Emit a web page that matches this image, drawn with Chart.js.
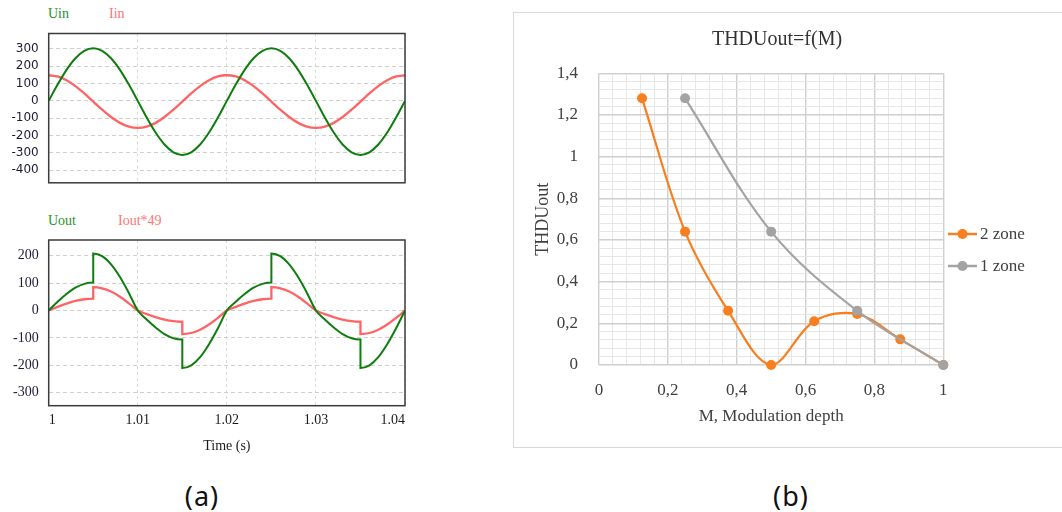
<!DOCTYPE html>
<html>
<head>
<meta charset="utf-8">
<script src="https://cdn.jsdelivr.net/npm/chart.js@4.4.0/dist/chart.umd.min.js"></script>
<style>
  body { margin: 0; background: #fff; width: 1062px; height: 512px; overflow: hidden; position: relative; }
  canvas { position: absolute; }
  .lbl { position: absolute; font-family: "Liberation Serif", serif; font-size: 14px; line-height: 16px; white-space: nowrap; }
  .cap { position: absolute; font-family: "Noto Sans", sans-serif; font-size: 27px; line-height: 30px; letter-spacing: 1px; transform: translateX(-50%); color: #111; }
  #frameB { position: absolute; left: 513px; top: 12px; width: 600px; height: 436px; border: 1px solid #d9d9d9; box-sizing: border-box; }
</style>
</head>
<body>
<div id="frameB"></div>

<div class="lbl" style="left:48px; top:6px; color:#2a8f2a;">Uin</div>
<div class="lbl" style="left:109px; top:6px; color:#ff7474;">Iin</div>
<div class="lbl" style="left:48px; top:213px; color:#2a8f2a;">Uout</div>
<div class="lbl" style="left:118px; top:213px; color:#ff7474;">Iout*49</div>

<canvas id="inChart" width="420" height="200" style="left:0; top:0;"></canvas>
<canvas id="outChart" width="420" height="260" style="left:0; top:200px;"></canvas>
<canvas id="thdChart" width="549" height="436" style="left:513px; top:12px;"></canvas>

<div class="cap" style="left:202px; top:481px;">(a)</div>
<div class="cap" style="left:791px; top:481px;">(b)</div>

<script>
// ---- input side: sampled every 1 ms ----
const tIn = [1.000, 1.001, 1.002, 1.003, 1.004, 1.005, 1.006, 1.007, 1.008, 1.009,
             1.010, 1.011, 1.012, 1.013, 1.014, 1.015, 1.016, 1.017, 1.018, 1.019,
             1.020, 1.021, 1.022, 1.023, 1.024, 1.025, 1.026, 1.027, 1.028, 1.029,
             1.030, 1.031, 1.032, 1.033, 1.034, 1.035, 1.036, 1.037, 1.038, 1.039, 1.040];
const uin = [0, 94, 179, 246, 289, 304, 289, 246, 179, 94,
             0, -96, -183, -252, -297, -312, -297, -252, -183, -96,
             0, 94, 179, 246, 289, 304, 289, 246, 179, 94,
             0, -96, -183, -252, -297, -312, -297, -252, -183, -96, 0];
const iin = [148, 141, 119, 85, 43, -4, -51, -93, -127, -149,
             -156, -149, -127, -93, -51, -4, 43, 85, 119, 141,
             148, 141, 119, 85, 43, -4, -51, -93, -127, -149,
             -156, -149, -127, -93, -51, -4, 43, 85, 119, 141, 148];

// ---- output side: switching instants appear twice (before / after the step) ----
const tOut = [1.000, 1.001, 1.002, 1.003, 1.004, 1.005, 1.005, 1.006, 1.007, 1.008, 1.009,
              1.010, 1.011, 1.012, 1.013, 1.014, 1.015, 1.015, 1.016, 1.017, 1.018, 1.019,
              1.020, 1.021, 1.022, 1.023, 1.024, 1.025, 1.025, 1.026, 1.027, 1.028, 1.029,
              1.030, 1.031, 1.032, 1.033, 1.034, 1.035, 1.035, 1.036, 1.037, 1.038, 1.039, 1.040];
const uout = [0, 32, 60, 83, 97, 102, 208, 198, 168, 122, 64,
              0, -33, -62, -86, -101, -106, -210, -200, -170, -123, -65,
              0, 32, 60, 83, 97, 102, 208, 198, 168, 122, 64,
              0, -33, -62, -86, -101, -106, -210, -200, -170, -123, -65, 0];
const iout49 = [0, 13, 25, 35, 41, 43, 85, 81, 69, 50, 26,
                0, -13, -24, -33, -39, -41, -86, -82, -70, -51, -27,
                0, 13, 25, 35, 41, 43, 85, 81, 69, 50, 26,
                0, -13, -24, -33, -39, -41, -86, -82, -70, -51, -27, 0];

const timeTicks = [1, 1.01, 1.02, 1.03, 1.04];
const timeLabels = ['1', '1.01', '1.02', '1.03', '1.04'];
const inTicks = [-400, -300, -200, -100, 0, 100, 200, 300];
const outTicks = [-300, -200, -100, 0, 100, 200];

// ---- THD vs modulation depth ----
const mZone2 = [0.125, 0.25, 0.375, 0.5, 0.625, 0.75, 0.875, 1];
const thdZone2 = [1.28, 0.64, 0.26, 0, 0.21, 0.245, 0.123, 0];
const mZone1 = [0.25, 0.5, 0.75, 1];
const thdZone1 = [1.28, 0.64, 0.26, 0];
const mLabels = ['0', '0,2', '0,4', '0,6', '0,8', '1'];
const thdLabels = ['0', '0,2', '0,4', '0,6', '0,8', '1', '1,2', '1,4'];

const GREEN = '#0e7d0e';
const RED = '#ff6464';
const ORANGE = '#f97e1d';
const GREY = '#a3a3a3';

const xy = (xs, ys) => xs.map((x, i) => ({ x: x, y: ys[i] }));

// dark box round the plot area of the scope traces
const frame = {
    id: 'frame',
    afterDatasetsDraw(chart, args, opts) {
        const { ctx, chartArea: a } = chart;
        ctx.save();
        ctx.strokeStyle = opts.color;
        ctx.lineWidth = opts.width;
        ctx.strokeRect(a.left, a.top, a.right - a.left, a.bottom - a.top);
        ctx.restore();
    }
};

function scopeOptions(yMin, yMax, yTicks, yFont, xLabels) {
    return {
        responsive: false,
        animation: false,
        layout: { padding: { left: 0, right: 15, top: xLabels ? 40 : 33.5, bottom: 0 } },
        elements: {
            point: { radius: 0 },
            line: { borderWidth: 2, cubicInterpolationMode: 'monotone' }
        },
        plugins: {
            legend: { display: false },
            tooltip: { enabled: false },
            frame: { color: '#3b3b3b', width: 1.5 }
        },
        scales: {
            x: {
                type: 'linear',
                min: 1,
                max: 1.04,
                afterBuildTicks: s => { s.ticks = timeTicks.map(v => ({ value: v })); },
                afterFit: s => { s.height = xLabels ? 54.3 : 9.3; },
                ticks: {
                    display: xLabels,
                    align: 'inner',
                    maxRotation: 0,
                    padding: 6,
                    color: '#1a1a1a',
                    font: { family: 'Liberation Serif', size: 14 },
                    callback: (v, i) => timeLabels[i]
                },
                title: {
                    display: xLabels,
                    text: 'Time (s)',
                    color: '#1a1a1a',
                    font: { family: 'Liberation Serif', size: 14 },
                    padding: { top: 0, bottom: 5 }
                },
                grid: { color: '#d3e0cc', drawTicks: false },
                border: { display: false, dash: [3, 3] }
            },
            y: {
                min: yMin,
                max: yMax,
                afterBuildTicks: s => { s.ticks = yTicks.map(v => ({ value: v })); },
                afterFit: s => { s.width = 48.7; },
                ticks: {
                    padding: 10,
                    color: '#1c1c38',
                    font: yFont,
                    callback: v => String(v)
                },
                grid: { color: '#cfcfcf', drawTicks: false },
                border: { display: false, dash: [4, 3] }
            }
        }
    };
}

new Chart(document.getElementById('inChart'), {
    type: 'line',
    data: {
        datasets: [
            { label: 'Uin', data: xy(tIn, uin), borderColor: GREEN },
            { label: 'Iin', data: xy(tIn, iin), borderColor: RED, borderWidth: 2.3 }
        ]
    },
    options: scopeOptions(-473, 389, inTicks, { family: 'DejaVu Sans', size: 12 }, false),
    plugins: [frame]
});

new Chart(document.getElementById('outChart'), {
    type: 'line',
    data: {
        datasets: [
            { label: 'Uout', data: xy(tOut, uout), borderColor: GREEN },
            { label: 'Iout*49', data: xy(tOut, iout49), borderColor: RED, borderWidth: 2.3 }
        ]
    },
    options: scopeOptions(-347, 257, outTicks, { family: 'Liberation Serif', size: 14 }, true),
    plugins: [frame]
});

// ---- THD chart: fine grid every 0.04, labelled every 0.2 ----
const fineTicks = (max, step) =>
    Array.from({ length: Math.round(max / step) + 1 }, (_, i) => ({ value: +(i * step).toFixed(2) }));
const isMajor = v => Math.abs(v * 5 - Math.round(v * 5)) < 1e-6;
const gridColor = ctx => isMajor(ctx.tick.value) ? '#cfcfcf' : '#e6e6e6';
const gridWidth = ctx => isMajor(ctx.tick.value) ? 1.4 : 1;

const serif = size => ({ family: 'Liberation Serif', size: size });

const thdText = {
    id: 'thdText',
    afterDraw(chart, args, opts) {
        const { ctx, chartArea } = chart;
        ctx.save();
        ctx.fillStyle = '#333';
        ctx.font = '20px "Liberation Serif"';
        ctx.textAlign = 'center';
        ctx.textBaseline = 'middle';
        ctx.fillText(opts.title, opts.titleX, opts.titleY);

        // legend: line with marker, then the series name
        ctx.textAlign = 'left';
        ctx.font = '17px "Liberation Serif"';
        opts.order.forEach((di, k) => {
            const ds = chart.data.datasets[di];
            const x = chartArea.right + 4.7;
            const y = opts.legendY + k * 32;
            ctx.strokeStyle = ds.borderColor;
            ctx.lineWidth = 2.5;
            ctx.beginPath();
            ctx.moveTo(x, y);
            ctx.lineTo(x + 29, y);
            ctx.stroke();
            ctx.fillStyle = ds.borderColor;
            ctx.beginPath();
            ctx.arc(x + 14.5, y, 5, 0, Math.PI * 2);
            ctx.fill();
            ctx.fillStyle = '#404040';
            ctx.fillText(ds.label, x + 32, y + 1);
        });
        ctx.restore();
    }
};

new Chart(document.getElementById('thdChart'), {
    type: 'line',
    data: {
        datasets: [
            {
                label: '2 zone', data: xy(mZone2, thdZone2), order: 1,
                borderColor: ORANGE, backgroundColor: ORANGE,
                pointBackgroundColor: ORANGE, pointBorderColor: ORANGE
            },
            {
                label: '1 zone', data: xy(mZone1, thdZone1), order: 0,
                borderColor: GREY, backgroundColor: GREY,
                pointBackgroundColor: GREY, pointBorderColor: GREY
            }
        ]
    },
    options: {
        responsive: false,
        animation: false,
        layout: { padding: { left: 0, right: 118.7, top: 61.3, bottom: 0 } },
        elements: {
            line: { borderWidth: 2.2, tension: 0.35 },
            point: { radius: 5, borderWidth: 0 }
        },
        datasets: { line: { clip: false } },
        plugins: {
            legend: { display: false },
            tooltip: { enabled: false },
            thdText: { title: 'THDUout=f(M)', titleX: 264, titleY: 28, legendY: 222, order: [0, 1] }
        },
        scales: {
            x: {
                type: 'linear',
                min: 0,
                max: 1,
                afterBuildTicks: s => { s.ticks = fineTicks(1, 0.04); },
                afterFit: s => { s.height = 83; },
                ticks: {
                    autoSkip: false,
                    maxRotation: 0,
                    padding: 15,
                    color: '#404040',
                    font: serif(17),
                    callback: v => isMajor(v) ? mLabels[Math.round(v * 5)] : ''
                },
                title: {
                    display: true,
                    text: 'M, Modulation depth',
                    color: '#404040',
                    font: serif(17),
                    padding: { top: 0, bottom: 21.4 }
                },
                grid: { color: gridColor, lineWidth: gridWidth, drawTicks: false },
                border: { display: false }
            },
            y: {
                min: 0,
                max: 1.4,
                afterBuildTicks: s => { s.ticks = fineTicks(1.4, 0.04); },
                afterFit: s => { s.width = 86; },
                ticks: {
                    autoSkip: false,
                    padding: 21,
                    color: '#404040',
                    font: serif(17),
                    callback: v => isMajor(v) ? thdLabels[Math.round(v * 5)] : ''
                },
                title: {
                    display: true,
                    text: 'THDUout',
                    color: '#404040',
                    font: serif(18),
                    padding: { top: 19.2, bottom: 0 }
                },
                grid: { color: gridColor, lineWidth: gridWidth, drawTicks: false },
                border: { display: false }
            }
        }
    },
    plugins: [thdText]
});
</script>
</body>
</html>
